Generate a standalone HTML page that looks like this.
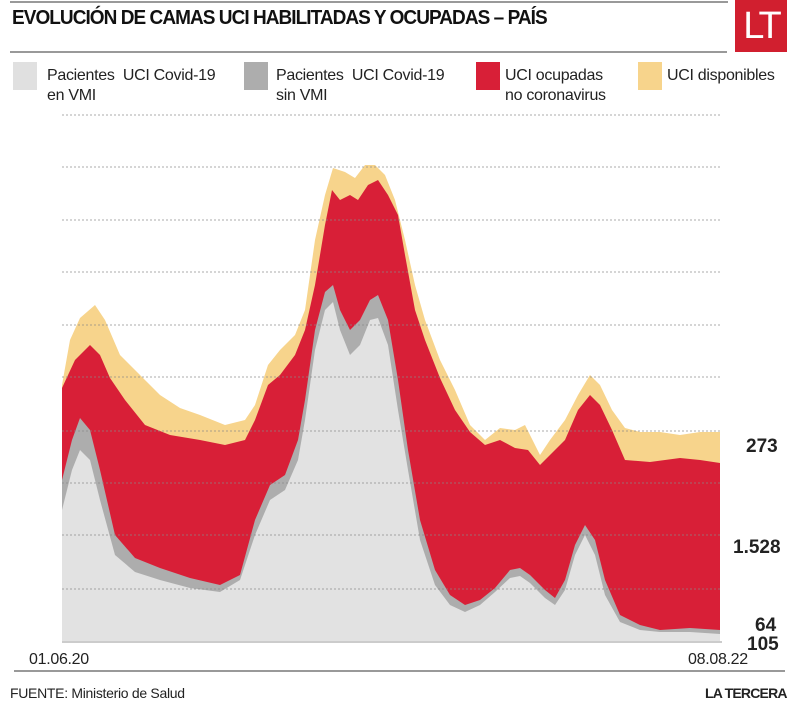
<!DOCTYPE html>
<html><head><meta charset="utf-8"><style>
body{margin:0;background:#fff;}
.w{position:relative;width:800px;height:701px;background:#fff;font-family:"Liberation Sans",sans-serif;overflow:hidden;}
.t{position:absolute;left:12px;top:7px;font-weight:bold;font-size:20px;letter-spacing:-1px;color:#111;transform:scaleX(0.95);transform-origin:left;white-space:nowrap;}
.lg{position:absolute;font-size:16px;color:#222;line-height:20px;letter-spacing:-0.3px;}
.sw{position:absolute;width:24px;height:28px;}
.n{position:absolute;font-weight:bold;font-size:19px;color:#222;}
</style></head><body><div class="w">
<div style="position:absolute;left:10px;top:1px;width:718px;height:2px;background:#999"></div>
<div class="t">EVOLUCIÓN DE CAMAS UCI HABILITADAS Y OCUPADAS – PAÍS</div>
<div style="position:absolute;left:10px;top:51px;width:717px;height:2px;background:#999"></div>
<div style="position:absolute;left:735px;top:0;width:52px;height:52px;background:#d11f2f;color:#fff;font-size:38px;line-height:52px;text-align:center;letter-spacing:-3px">LT</div>
<div class="sw" style="left:13px;top:62px;background:#e0e0e0"></div><div class="lg" style="left:47px;top:66px">Pacientes&nbsp; UCI Covid-19<br>en VMI</div>
<div class="sw" style="left:244px;top:62px;background:#adadad"></div><div class="lg" style="left:276px;top:66px">Pacientes&nbsp; UCI Covid-19<br>sin VMI</div>
<div class="sw" style="left:476px;top:62px;background:#d81f37"></div><div class="lg" style="left:505px;top:66px">UCI ocupadas<br>no coronavirus</div>
<div class="sw" style="left:638px;top:62px;background:#f7d48c"></div><div class="lg" style="left:667px;top:66px">UCI disponibles</div>
<svg style="position:absolute;left:0;top:0" width="800" height="701">
<polygon fill="#f7d48c" points="62,642 62,385 70,340 80,318 95,305 105,320 120,355 140,375 160,395 180,408 200,415 225,425 245,420 255,405 268,365 280,350 295,335 305,310 315,240 325,195 333,168 345,172 355,178 365,165 375,165 385,175 395,200 405,240 415,285 425,320 440,360 455,390 470,425 485,440 500,428 515,430 525,425 540,455 550,440 565,420 578,395 590,375 600,385 612,410 625,428 640,432 660,432 680,435 700,432 720,432 720,642"/>
<polygon fill="#d81f37" points="62,642 62,388 75,360 90,345 100,355 110,378 125,400 145,425 170,435 200,440 225,445 245,440 255,420 268,385 280,375 295,355 305,330 315,285 325,225 332,190 340,200 350,195 358,200 368,185 378,180 388,195 398,215 405,255 415,310 425,340 440,378 455,410 470,432 485,445 500,440 515,448 528,450 540,465 550,455 565,440 578,410 590,395 600,405 612,430 625,460 650,462 680,458 700,460 720,463 720,642"/>
<polygon fill="#adadad" points="62,642 62,480 72,440 80,418 90,430 100,470 115,535 135,558 160,568 190,578 220,585 240,575 255,520 270,485 285,475 298,440 305,400 315,330 325,292 333,285 340,310 350,330 360,320 370,300 378,295 388,320 398,380 408,450 420,520 435,570 450,595 465,605 480,600 495,588 510,570 520,568 530,575 545,590 555,598 565,580 575,545 585,525 595,540 605,580 620,615 640,625 660,630 690,628 720,630 720,642"/>
<polygon fill="#e2e2e2" points="62,642 62,510 72,470 80,450 90,460 100,500 115,555 135,572 160,580 190,588 220,592 240,580 255,535 270,500 285,490 298,460 305,420 315,350 325,310 333,302 340,330 350,355 360,345 370,320 378,318 388,345 398,410 408,470 420,540 435,585 450,605 465,612 480,605 495,592 510,578 520,576 530,583 545,598 555,605 565,590 575,555 585,535 595,555 605,595 620,622 640,630 660,632 690,632 720,634 720,642"/>
<g stroke="#888" stroke-width="1" stroke-dasharray="2,2" opacity="0.7">
<line x1="62" x2="722" y1="115" y2="115"/><line x1="62" x2="722" y1="167" y2="167"/><line x1="62" x2="722" y1="220" y2="220"/><line x1="62" x2="722" y1="272" y2="272"/><line x1="62" x2="722" y1="325" y2="325"/><line x1="62" x2="722" y1="377" y2="377"/><line x1="62" x2="722" y1="431" y2="431"/><line x1="62" x2="722" y1="483" y2="483"/><line x1="62" x2="722" y1="535" y2="535"/><line x1="62" x2="722" y1="589" y2="589"/>
</g>
<line x1="62" x2="722" y1="642" y2="642" stroke="#ccc" stroke-width="2"/>
<line x1="14" x2="785" y1="671" y2="671" stroke="#999" stroke-width="2"/>
</svg>
<div class="n" style="left:746px;top:436px">273</div>
<div class="n" style="left:733px;top:537px">1.528</div>
<div class="n" style="left:755px;top:615px">64</div>
<div class="n" style="left:747px;top:634px">105</div>
<div class="lg" style="left:29px;top:650px">01.06.20</div>
<div class="lg" style="left:688px;top:650px">08.08.22</div>
<div class="lg" style="left:10px;top:683px;font-size:14px">FUENTE: Ministerio de Salud</div>
<div class="lg" style="left:705px;top:683px;font-size:14px;font-weight:bold;letter-spacing:-0.8px">LA TERCERA</div>
</div></body></html>
